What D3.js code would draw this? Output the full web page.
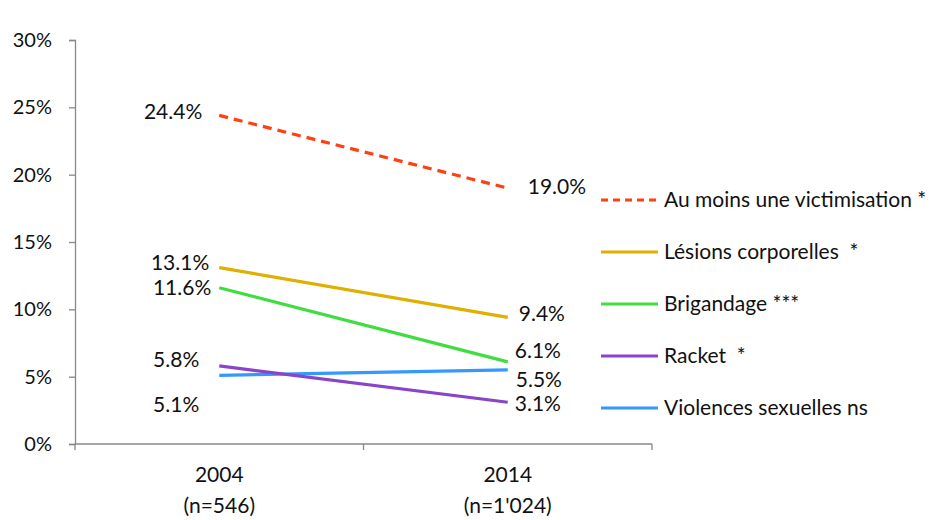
<!DOCTYPE html>
<html><head><meta charset="utf-8">
<script src="https://cdn.jsdelivr.net/npm/d3@7"></script>
<style>
body{margin:0;background:#fff;}
text{font-family:Lato,"Open Sans",sans-serif;fill:#111;}
</style></head>
<body><svg id="c" width="936" height="520"></svg>
<script>
const years = ["2004", "2014"];
const sampleSizes = ["(n=546)", "(n=1'024)"];
const seriesNames = ["Au moins une victimisation *", "Lésions corporelles  *", "Brigandage ***", "Racket  *", "Violences sexuelles ns"];
const victimisation = [24.4, 19.0];
const lesions = [13.1, 9.4];
const brigandage = [11.6, 6.1];
const racket = [5.8, 3.1];
const violences = [5.1, 5.5];
const yTicks = [0, 5, 10, 15, 20, 25, 30];

const colors = ["#FF4010", "#E0B000", "#40DD40", "#8A44C8", "#3399FF"];
const dashes = ["9,6", null, null, null, null];
// label nudges (px) to avoid overlap, [2004, 2014]
const labelNudgeY = [[-4, -1], [-5, -4], [0, -11], [-6, 1], [29, 10]];
const labelNudgeX = [[-7, 12], [0, 3], [2, -1], [-10, -1], [-10, 0]];

const series = [victimisation, lesions, brigandage, racket, violences].map((v, i) => ({name: seriesNames[i], values: v, color: colors[i], dash: dashes[i], ny: labelNudgeY[i], nx: labelNudgeX[i]}));

const svg = d3.select("#c");
const mLeft = 75, mRight = 652, mTop = 40, mBottom = 444;
const x = d3.scaleBand().domain(years).range([mLeft, mRight]);
const y = d3.scaleLinear().domain([0, 30]).range([mBottom, mTop]);
const axisColor = "#888";

// y axis
const ya = svg.append("g").attr("transform", `translate(${mLeft},0)`)
  .call(d3.axisLeft(y).tickValues(yTicks).tickFormat(d => d + "%").tickSize(6).tickPadding(17));
ya.select(".domain").attr("stroke", axisColor).attr("stroke-width", 1.3);
ya.selectAll(".tick line").attr("stroke", axisColor).attr("stroke-width", 1.3);
ya.selectAll(".tick text").attr("font-size", 20).attr("font-family", "Lato").attr("fill", "#111");

// x axis
const xa = svg.append("g").attr("transform", `translate(0,${mBottom})`);
xa.append("line").attr("x1", mLeft).attr("x2", mRight).attr("y1", 0).attr("y2", 0).attr("stroke", axisColor).attr("stroke-width", 1.3);
const bounds = [mLeft].concat(years.map(d => x(d) + x.bandwidth()));
xa.selectAll(".tk").data(bounds).enter().append("line")
  .attr("x1", d => d).attr("x2", d => d).attr("y1", 0).attr("y2", 6).attr("stroke", axisColor).attr("stroke-width", 1.3);
years.forEach((yr, i) => {
  const cx = x(yr) + x.bandwidth() / 2;
  xa.append("text").attr("x", cx).attr("y", 38).attr("text-anchor", "middle").attr("font-size", 21).text(yr);
  xa.append("text").attr("x", cx).attr("y", 69).attr("text-anchor", "middle").attr("font-size", 21).text(sampleSizes[i]);
});

const px = i => x(years[i]) + x.bandwidth() / 2;
const line = d3.line().x((d, i) => px(i)).y(d => y(d));

series.slice().reverse().forEach(s => {
  svg.append("path").datum(s.values).attr("d", line).attr("fill", "none")
    .attr("stroke", s.color).attr("stroke-width", 3.2)
    .attr("stroke-dasharray", s.dash);
});

series.forEach(s => {
  s.values.forEach((v, i) => {
    svg.append("text")
      .attr("x", (i === 0 ? px(i) - 10 : px(i) + 8) + s.nx[i])
      .attr("y", y(v) + s.ny[i])
      .attr("dy", "0.35em")
      .attr("text-anchor", i === 0 ? "end" : "start")
      .attr("font-size", 21)
      .text(v.toFixed(1) + "%");
  });
});

// legend
const lg = svg.append("g").attr("transform", "translate(601,200)");
series.forEach((s, i) => {
  const g = lg.append("g").attr("transform", `translate(0,${i * 52})`);
  g.append("line").attr("x1", 0).attr("x2", 57).attr("y1", 0).attr("y2", 0)
    .attr("stroke", s.color).attr("stroke-width", 3.2).attr("stroke-dasharray", s.dash ? "7,5" : null);
  g.append("text").attr("x", 63).attr("y", 0).attr("dy", "0.35em").attr("font-size", 21).attr("xml:space", "preserve").style("white-space", "pre").text(s.name);
});
</script></body></html>
